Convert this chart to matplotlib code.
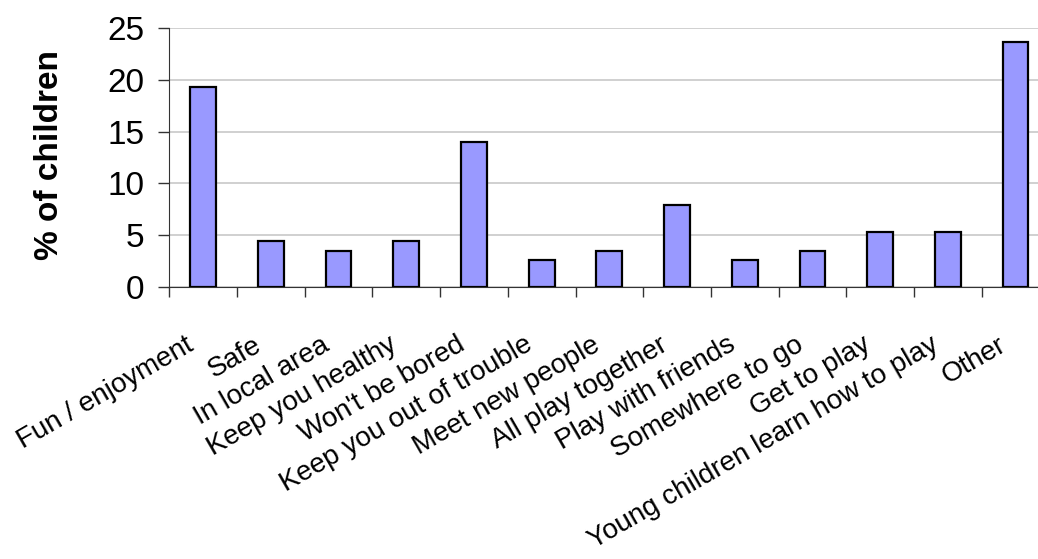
import matplotlib
matplotlib.use("Agg")
import matplotlib.pyplot as plt
import numpy as np

categories = ["Fun / enjoyment", "Safe", "In local area", "Keep you healthy",
              "Won't be bored", "Keep you out of trouble", "Meet new people",
              "All play together", "Play with friends", "Somewhere to go",
              "Get to play", "Young children learn how to play", "Other"]
values = [19.3, 4.4, 3.5, 4.4, 14.0, 2.6, 3.5, 7.9, 2.6, 3.5, 5.3, 5.3, 23.7]
y_ticks = [0, 5, 10, 15, 20, 25]
y_label = "% of children"

plt.rcParams['font.family'] = ['Liberation Sans', 'DejaVu Sans']

W, H = 1038, 559
fig = plt.figure(figsize=(W / 100, H / 100), dpi=100)
left_px, right_px = 169.3, 169.3 + 13 * 67.7
top_px, bot_px = 28.3, 286.7
ax = fig.add_axes([left_px / W, 1 - bot_px / H, (right_px - left_px) / W, (bot_px - top_px) / H])

x = np.arange(len(categories))
ax.bar(x, values, width=0.38, color="#9999FF", edgecolor="black", linewidth=1.6, zorder=3)

ax.set_xlim(-0.5, len(categories) - 0.5)
ax.set_ylim(0, 25)
ax.set_yticks(y_ticks)
ax.set_yticklabels([str(t) for t in y_ticks], fontsize=24)
ax.yaxis.grid(True, color="#c8c8c8", linewidth=1.2, zorder=0)
ax.set_axisbelow(True)

ax.set_xticks(np.arange(-0.5, len(categories) + 0.5, 1.0))
ax.set_xticklabels([])
ax.tick_params(axis='x', direction='out', length=7, width=1, color="#333333")
ax.tick_params(axis='y', direction='out', length=8, width=1, color="#333333", pad=10)

for s in ['top', 'right']:
    ax.spines[s].set_visible(False)
ax.spines['left'].set_color("#333333")
ax.spines['bottom'].set_color("#333333")
ax.spines['left'].set_bounds(0, 25)

for i, lab in enumerate(categories):
    ax.annotate(lab, xy=(i, 0), xycoords=('data', 'axes fraction'),
                xytext=(-18, -45), textcoords='offset pixels',
                rotation=30, rotation_mode='anchor', ha='right', va='top',
                fontsize=20, annotation_clip=False)

fig.text(50 / W, 1 - 155 / H, y_label, rotation=90, ha='center', va='center',
         fontsize=24, fontweight='bold')

fig.savefig("out.png", dpi=100)
